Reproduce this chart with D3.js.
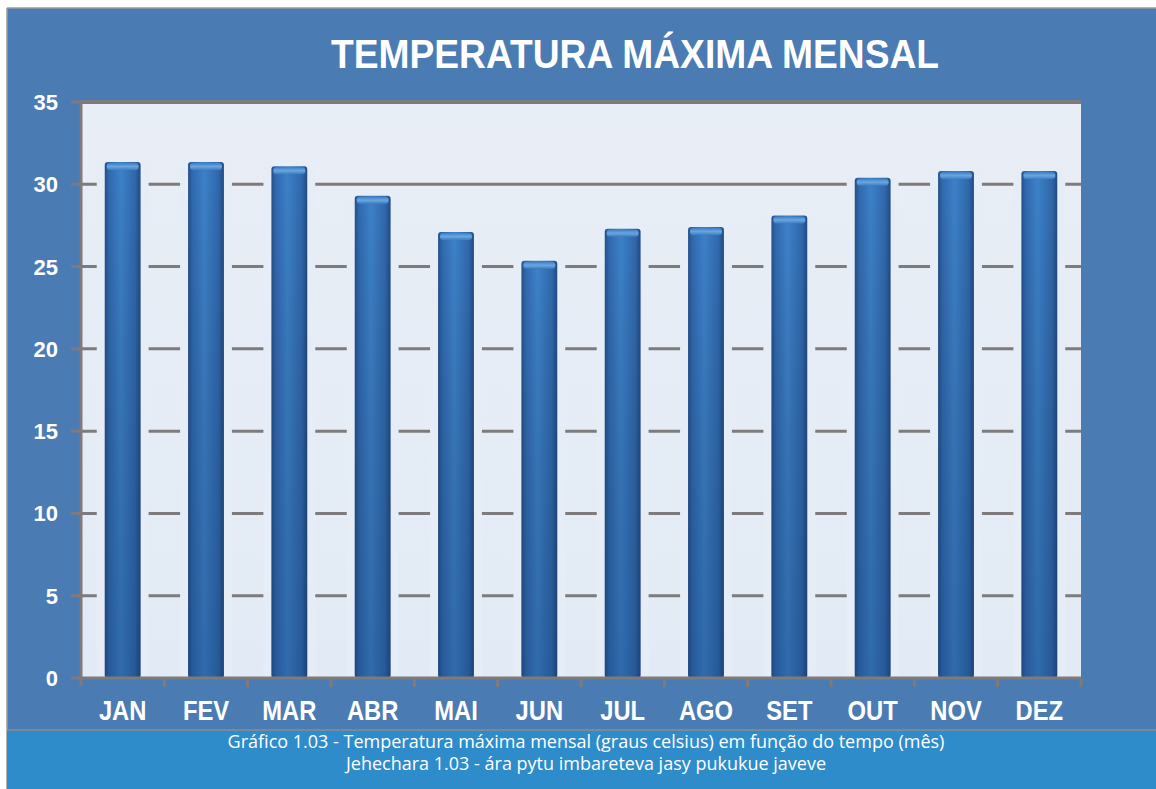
<!DOCTYPE html>
<html>
<head>
<meta charset="utf-8">
<script src="https://cdn.jsdelivr.net/npm/d3@7"></script>
<style>
  body { margin: 0; background: #fff; }
  svg { display: block; }
  .tick-label { font-family: "Liberation Sans", Arial, sans-serif; font-weight: bold; fill: #fff; }
  .caption { font-family: "Open Sans", "Noto Sans", sans-serif; fill: #fff; font-size: 18px; }
</style>
</head>
<body>
<svg id="chart"></svg>
<script>
const width = 1156, height = 789;
const frameX = 7, frameY = 8;
const plotLeft = 81, plotRight = 1081, plotTop = 102, plotBottom = 678;
const captionTop = 730;

const months = ['JAN', 'FEV', 'MAR', 'ABR', 'MAI', 'JUN', 'JUL', 'AGO', 'SET', 'OUT', 'NOV', 'DEZ'];
const tempMax = [31.35, 31.35, 31.1, 29.3, 27.1, 25.35, 27.3, 27.4, 28.1, 30.4, 30.8, 30.8];
const yTicks = [0, 5, 10, 15, 20, 25, 30, 35];
const title = 'TEMPERATURA MÁXIMA MENSAL';
const captionLines = [
    'Gráfico 1.03 - Temperatura máxima mensal (graus celsius) em função do tempo (mês)',
    'Jehechara 1.03 - ára pytu imbareteva jasy pukukue javeve'
];

const svg = d3.select('#chart')
    .attr('width', width)
    .attr('height', height);

const defs = svg.append('defs');
const barGrad = defs.append('linearGradient').attr('id', 'barGrad')
    .attr('x1', 0).attr('x2', 1).attr('y1', 0).attr('y2', 0);
barGrad.append('stop').attr('offset', '0%').attr('stop-color', '#244f8a');
barGrad.append('stop').attr('offset', '12%').attr('stop-color', '#3069ae');
barGrad.append('stop').attr('offset', '45%').attr('stop-color', '#3d81c9');
barGrad.append('stop').attr('offset', '85%').attr('stop-color', '#3068ab');
barGrad.append('stop').attr('offset', '100%').attr('stop-color', '#214a82');

const shadeGrad = defs.append('linearGradient').attr('id', 'shadeGrad')
    .attr('x1', 0).attr('x2', 0).attr('y1', 0).attr('y2', 1);
shadeGrad.append('stop').attr('offset', '0%').attr('stop-color', '#000').attr('stop-opacity', 0);
shadeGrad.append('stop').attr('offset', '100%').attr('stop-color', '#0a2a5a').attr('stop-opacity', 0.25);

const capGrad = defs.append('linearGradient').attr('id', 'capGrad')
    .attr('x1', 0).attr('x2', 0).attr('y1', 0).attr('y2', 1);
capGrad.append('stop').attr('offset', '0%').attr('stop-color', '#3f7fc4');
capGrad.append('stop').attr('offset', '50%').attr('stop-color', '#6aa6e0');
capGrad.append('stop').attr('offset', '100%').attr('stop-color', '#3b7cc2');

const plotGrad = defs.append('linearGradient').attr('id', 'plotGrad')
    .attr('x1', 0).attr('x2', 0).attr('y1', 0).attr('y2', 1);
plotGrad.append('stop').attr('offset', '0%').attr('stop-color', '#e9eef6');
plotGrad.append('stop').attr('offset', '100%').attr('stop-color', '#e2ebf5');

// outer panel
svg.append('rect')
    .attr('x', frameX).attr('y', frameY)
    .attr('width', width - frameX).attr('height', captionTop - frameY)
    .attr('fill', '#4b7bb3');
svg.append('line')
    .attr('x1', frameX).attr('x2', width).attr('y1', frameY).attr('y2', frameY)
    .attr('stroke', '#9a9a9a').attr('stroke-width', 1.5);
svg.append('line')
    .attr('x1', frameX).attr('x2', frameX).attr('y1', frameY).attr('y2', height)
    .attr('stroke', '#9a9a9a').attr('stroke-width', 1.5);

// caption band
svg.append('rect')
    .attr('x', frameX).attr('y', captionTop)
    .attr('width', width - frameX).attr('height', height - captionTop)
    .attr('fill', '#2f8ccb');
svg.append('line')
    .attr('x1', frameX).attr('x2', width).attr('y1', captionTop).attr('y2', captionTop)
    .attr('stroke', '#8c8c8c').attr('stroke-width', 1.5);
svg.selectAll('text.caption')
    .data(captionLines)
    .join('text')
    .attr('class', 'caption')
    .attr('x', 586)
    .attr('y', (d, i) => 748 + i * 22)
    .attr('text-anchor', 'middle')
    .text(d => d);

// title, slightly condensed
svg.append('text')
    .attr('transform', 'translate(635,68) scale(0.93,1)')
    .attr('text-anchor', 'middle')
    .attr('font-family', '"Liberation Sans", Arial, sans-serif')
    .attr('font-weight', 'bold')
    .attr('font-size', 40)
    .attr('fill', '#fff')
    .text(title);

const x = d3.scaleBand()
    .domain(months)
    .range([plotLeft, plotRight])
    .paddingInner(0.57)
    .paddingOuter(0.285);
const band = d3.scaleBand().domain(months).range([plotLeft, plotRight]);
const y = d3.scaleLinear()
    .domain([0, 35])
    .range([plotBottom, plotTop]);

// plot background
svg.append('rect')
    .attr('x', plotLeft).attr('y', plotTop)
    .attr('width', plotRight - plotLeft).attr('height', plotBottom - plotTop)
    .attr('fill', 'url(#plotGrad)');

// gridlines
svg.append('g')
    .selectAll('line')
    .data(yTicks.filter(d => d > 0 && d < 35))
    .join('line')
    .attr('x1', plotLeft).attr('x2', plotRight)
    .attr('y1', d => y(d)).attr('y2', d => y(d))
    .attr('stroke', '#7d7b7b').attr('stroke-width', 3);

// halos round bars that break the gridlines
svg.append('g')
    .selectAll('rect')
    .data(months)
    .join('rect')
    .attr('x', d => x(d) - 8)
    .attr('width', x.bandwidth() + 16)
    .attr('y', (d, i) => y(tempMax[i]))
    .attr('height', (d, i) => y(0) - y(tempMax[i]))
    .attr('fill', '#e6edf6');

// bars
const bars = svg.append('g').selectAll('g')
    .data(months)
    .join('g');
bars.append('rect')
    .attr('x', d => x(d))
    .attr('y', (d, i) => y(tempMax[i]))
    .attr('width', x.bandwidth())
    .attr('height', (d, i) => y(0) - y(tempMax[i]))
    .attr('rx', 3)
    .attr('fill', 'url(#barGrad)');
bars.append('rect')
    .attr('x', d => x(d))
    .attr('y', (d, i) => y(tempMax[i]))
    .attr('width', x.bandwidth())
    .attr('height', (d, i) => y(0) - y(tempMax[i]))
    .attr('fill', 'url(#shadeGrad)');
bars.append('rect')
    .attr('x', d => x(d) + 2)
    .attr('y', (d, i) => y(tempMax[i]) + 1)
    .attr('width', x.bandwidth() - 4)
    .attr('height', 7)
    .attr('rx', 3)
    .attr('fill', 'url(#capGrad)');

// axes lines
svg.append('line')
    .attr('x1', plotLeft).attr('x2', plotRight)
    .attr('y1', plotTop).attr('y2', plotTop)
    .attr('stroke', '#7d7b7b').attr('stroke-width', 4);
svg.append('line')
    .attr('x1', plotLeft).attr('x2', plotLeft)
    .attr('y1', plotTop).attr('y2', plotBottom + 8)
    .attr('stroke', '#7d7b7b').attr('stroke-width', 3);
svg.append('line')
    .attr('x1', plotLeft).attr('x2', plotRight)
    .attr('y1', plotBottom).attr('y2', plotBottom)
    .attr('stroke', '#7d7b7b').attr('stroke-width', 3);

// y ticks
const yAxis = svg.append('g');
yAxis.selectAll('line')
    .data(yTicks)
    .join('line')
    .attr('x1', plotLeft - 10).attr('x2', plotLeft)
    .attr('y1', d => y(d)).attr('y2', d => y(d))
    .attr('stroke', '#7d7b7b').attr('stroke-width', 3);
yAxis.selectAll('text')
    .data(yTicks)
    .join('text')
    .attr('class', 'tick-label')
    .attr('x', 58)
    .attr('y', d => y(d) + 8)
    .attr('text-anchor', 'end')
    .attr('font-size', 22)
    .text(d => d);

// x ticks at band boundaries
svg.append('g')
    .selectAll('line')
    .data(months.slice(1).concat(['end']))
    .join('line')
    .attr('x1', d => d === 'end' ? plotRight : band(d))
    .attr('x2', d => d === 'end' ? plotRight : band(d))
    .attr('y1', plotBottom).attr('y2', plotBottom + 9)
    .attr('stroke', '#7d7b7b').attr('stroke-width', 3);

svg.append('g')
    .selectAll('text')
    .data(months)
    .join('text')
    .attr('class', 'tick-label')
    .attr('transform', d => `translate(${x(d) + x.bandwidth() / 2},720) scale(0.88,1)`)
    .attr('text-anchor', 'middle')
    .attr('font-size', 27)
    .text(d => d);
</script>
</body>
</html>
